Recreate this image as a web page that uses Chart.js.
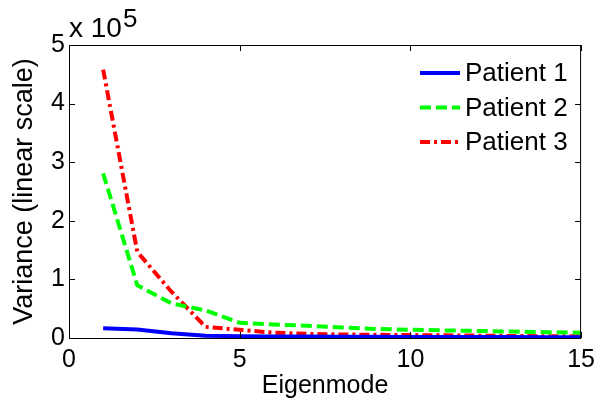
<!DOCTYPE html>
<html>
<head>
<meta charset="utf-8">
<script src="https://cdn.jsdelivr.net/npm/chart.js@4/dist/chart.umd.min.js"></script>
<style>
  html, body { margin: 0; padding: 0; background: #fff; }
  #wrap { width: 602px; height: 402px; }
</style>
</head>
<body>
<div id="wrap"><canvas id="chart" width="602" height="402"></canvas></div>
<script>
const modes = [1, 2, 3, 4, 5, 6, 7, 8, 9, 10, 11, 12, 13, 14, 15];
const patient1 = [16500, 14500, 8000, 4000, 3000, 2700, 2400, 2200, 2000, 1800, 1700, 1600, 1500, 1400, 1300];
const patient2 = [281000, 90000, 59000, 47000, 26000, 23000, 21000, 18000, 15500, 14000, 13000, 12000, 11000, 10000, 9000];
const patient3 = [458000, 147000, 79000, 19000, 14000, 9000, 7000, 6000, 5500, 5000, 4500, 4000, 3500, 3000, 3000];
const seriesNames = ["Patient 1", "Patient 2", "Patient 3"];
const xTicks = [0, 5, 10, 15];
const yTicks = [0, 100000, 200000, 300000, 400000, 500000];
const yTickLabels = ["0", "1", "2", "3", "4", "5"];

const FONT = "'Liberation Sans', Arial, sans-serif";

const toPoints = (vals) => vals.map((v, i) => ({ x: modes[i], y: v }));

// matlab style box, inward ticks, legend and exponent label
const matlabAxes = {
  id: "matlabAxes",
  afterDatasetsDraw(chart) {
    const { ctx, chartArea: a, scales } = chart;
    const tl = 6;
    ctx.save();
    ctx.strokeStyle = "#000";
    ctx.lineWidth = 1;
    ctx.beginPath();
    ctx.rect(a.left + 0.5, a.top + 0.5, a.right - a.left - 1, a.bottom - a.top);
    scales.x.ticks.forEach((t) => {
      const px = Math.round(scales.x.getPixelForValue(t.value)) + 0.5;
      ctx.moveTo(px, a.bottom);
      ctx.lineTo(px, a.bottom - tl);
      ctx.moveTo(px, a.top);
      ctx.lineTo(px, a.top + tl);
    });
    scales.y.ticks.forEach((t) => {
      const py = Math.round(scales.y.getPixelForValue(t.value)) + 0.5;
      ctx.moveTo(a.left, py);
      ctx.lineTo(a.left + tl, py);
      ctx.moveTo(a.right, py);
      ctx.lineTo(a.right - tl, py);
    });
    ctx.stroke();

    // exponent
    ctx.fillStyle = "#000";
    ctx.textAlign = "left";
    ctx.textBaseline = "alphabetic";
    ctx.font = "28px " + FONT;
    ctx.fillText("x 10", 69, 37);
    const w = ctx.measureText("x 10").width;
    ctx.font = "26px " + FONT;
    ctx.fillText("5", 69 + w + 1, 27);

    // legend
    const rows = [73, 107.5, 142];
    chart.data.datasets.forEach((ds, i) => {
      const y = rows[i];
      ctx.beginPath();
      ctx.strokeStyle = ds.borderColor;
      ctx.lineWidth = ds.borderWidth;
      ctx.setLineDash(ds.borderDash || []);
      ctx.moveTo(420, y);
      ctx.lineTo(460, y);
      ctx.stroke();
      ctx.setLineDash([]);
      ctx.font = "26px " + FONT;
      ctx.textBaseline = "middle";
      ctx.fillText(ds.label, 465, y + 1);
    });
    ctx.restore();
  }
};

new Chart(document.getElementById("chart").getContext("2d"), {
  type: "line",
  data: {
    datasets: [
      {
        label: seriesNames[0],
        data: toPoints(patient1),
        borderColor: "#0000ff",
        borderWidth: 4,
        pointRadius: 0,
        tension: 0
      },
      {
        label: seriesNames[1],
        data: toPoints(patient2),
        borderColor: "#00ff00",
        borderWidth: 4,
        borderDash: [11, 5],
        pointRadius: 0,
        tension: 0
      },
      {
        label: seriesNames[2],
        data: toPoints(patient3),
        borderColor: "#ff0000",
        borderWidth: 4,
        borderDash: [10, 4, 3, 4],
        pointRadius: 0,
        tension: 0
      }
    ]
  },
  options: {
    responsive: false,
    animation: false,
    layout: { padding: { left: 0, top: 45, right: 16, bottom: 0 } },
    plugins: { legend: { display: false }, tooltip: { enabled: false } },
    scales: {
      x: {
        type: "linear",
        min: 0,
        max: 15,
        afterBuildTicks: (scale) => { scale.ticks = xTicks.map((v) => ({ value: v })); },
        afterFit: (scale) => { scale.height = 64; },
        grid: { display: false, drawTicks: false },
        border: { display: false },
        ticks: { color: "#000", font: { family: FONT, size: 25 }, padding: 7, maxRotation: 0 },
        title: {
          display: true,
          text: "Eigenmode",
          color: "#000",
          font: { family: FONT, size: 25 },
          padding: { top: 0, bottom: 1 }
        }
      },
      y: {
        min: 0,
        max: 500000,
        afterBuildTicks: (scale) => { scale.ticks = yTicks.map((v) => ({ value: v })); },
        afterFit: (scale) => { scale.width = 69; },
        grid: { display: false, drawTicks: false },
        border: { display: false },
        ticks: {
          color: "#000",
          font: { family: FONT, size: 25 },
          padding: 4,
          callback: (v) => yTickLabels[yTicks.indexOf(v)]
        },
        title: {
          display: true,
          text: "Variance (linear scale)",
          color: "#000",
          font: { family: FONT, size: 27 },
          padding: { top: 8, bottom: 0 }
        }
      }
    }
  },
  plugins: [matlabAxes]
});
</script>
</body>
</html>
